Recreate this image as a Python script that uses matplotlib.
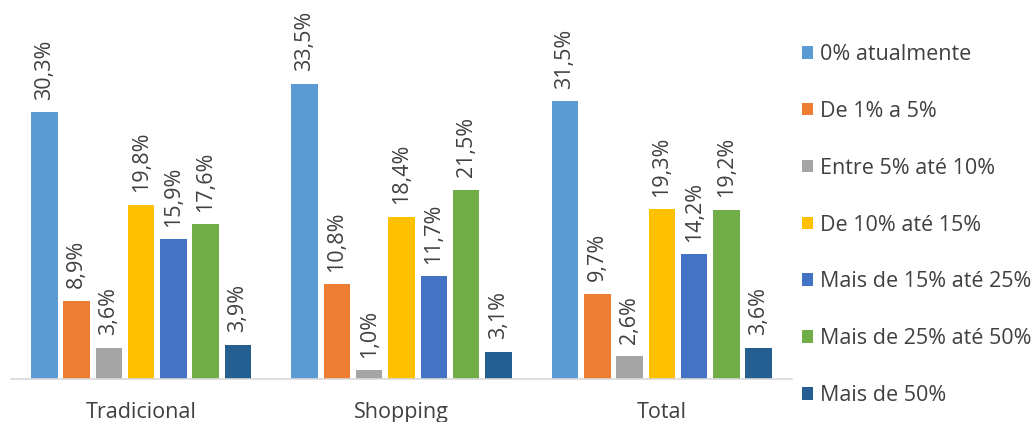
import numpy as np
import matplotlib
matplotlib.use("Agg")
import matplotlib.pyplot as plt
from matplotlib.patches import Patch

categories = ["Tradicional", "Shopping", "Total"]
series = ["0% atualmente", "De 1% a 5%", "Entre 5% até 10%", "De 10% até 15%",
          "Mais de 15% até 25%", "Mais de 25% até 50%", "Mais de 50%"]
values = [
    [30.3, 33.5, 31.5],
    [8.9, 10.8, 9.7],
    [3.6, 1.0, 2.6],
    [19.8, 18.4, 19.3],
    [15.9, 11.7, 14.2],
    [17.6, 21.5, 19.2],
    [3.9, 3.1, 3.6],
]
colors = ["#5B9BD5", "#ED7D31", "#A5A5A5", "#FFC000", "#4472C4", "#70AD47", "#255E91"]

plt.rcParams["font.family"] = ["Open Sans", "DejaVu Sans"]

W, H = 1034, 422
fig = plt.figure(figsize=(W / 100, H / 100), dpi=100)
ax = fig.add_axes([11 / W, (H - 379.3) / H, (792 - 11) / W, 379.3 / H])

x = np.arange(len(categories))
step, width = 0.124, 0.102
for i, (vals, col) in enumerate(zip(values, colors)):
    pos = x + (i - 3) * step
    ax.bar(pos, vals, width=width, color=col, zorder=2)
    for p, v in zip(pos, vals):
        ax.annotate(f"{v:.1f}%".replace(".", ","), (p, v), xytext=(0, 9),
                    textcoords="offset points", rotation=90, ha="center",
                    va="bottom", fontsize=15.5, color="#404040")

ax.set_xlim(-0.5, 2.5)
ax.set_ylim(0, 43)
ax.set_yticks([])
ax.set_xticks(x)
ax.set_xticklabels(categories, fontsize=15.5, color="#404040")
ax.tick_params(axis="x", length=0, pad=16)
for s in ("top", "right", "left"):
    ax.spines[s].set_visible(False)
ax.spines["bottom"].set_color("#D9D9D9")
ax.spines["bottom"].set_linewidth(1.2)

handles = [Patch(facecolor=c, label=s) for s, c in zip(series, colors)]
fig.legend(handles=handles, loc="upper left", bbox_to_anchor=(802 / W, 1 - 44 / H),
           frameon=False, fontsize=15.5, handlelength=0.52, handleheight=0.52,
           handletextpad=0.33, labelspacing=1.665, borderpad=0, borderaxespad=0,
           labelcolor="#404040")

fig.savefig("out.png", dpi=100, facecolor="white")
